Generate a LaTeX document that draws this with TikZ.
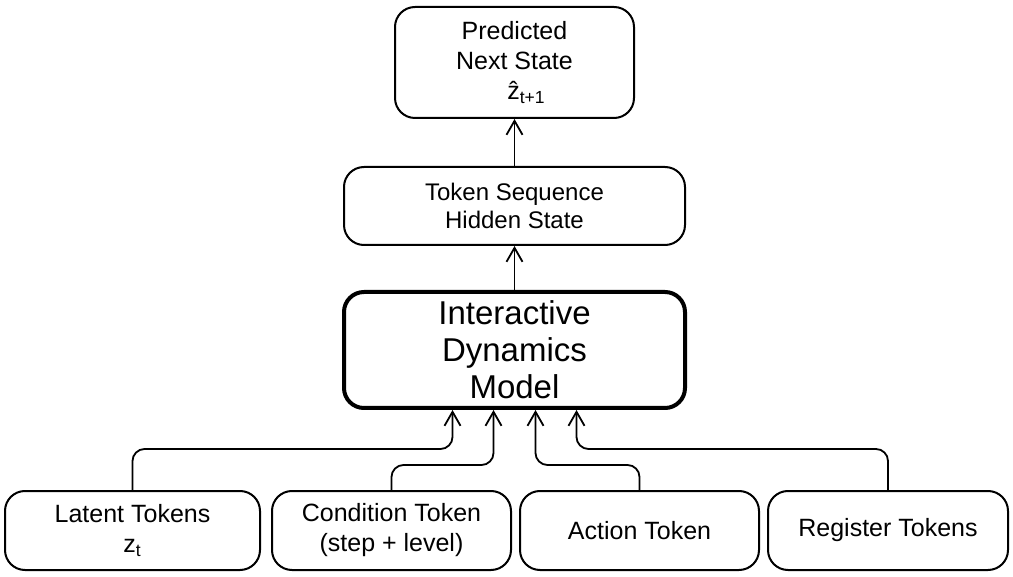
\documentclass[tikz,border=0pt]{standalone}
\usepackage{fontspec}
\setmainfont{Liberation Sans}
\usetikzlibrary{calc,positioning,arrows.meta}
\tikzset{
  blk/.style={draw,rounded corners=10pt,line width=1pt,align=center,font=\fontsize{12.5}{15}\selectfont},
  feed/.style={draw,line width=0.9pt,-{Straight Barb[length=7pt,width=8pt]},rounded corners=6pt}
}

\begin{document}
\begin{tikzpicture}[x=0.5pt,y=-0.5pt]%%%dynamics model
\useasboundingbox (0,0) rectangle (1013,577);
\node [blk,minimum width=119.5pt,minimum height=55.5pt] (pred) at (514.5,62.5) {Predicted\\Next State\\\hspace*{12pt}ẑ\textsubscript{t+1}};
\node [blk,minimum width=170.5pt,minimum height=39pt,font=\fontsize{12}{14}\selectfont] (tok) at (514.5,206) {Token Sequence\\Hidden State};
\node [blk,line width=2pt,minimum width=170.5pt,minimum height=58pt,font=\fontsize{16.5}{18.5}\selectfont] (idm) at (514.5,350) {Interactive\\Dynamics\\Model};
\node [blk,minimum width=127.5pt,minimum height=39.5pt] (lat) at (132.5,530.5) {Latent Tokens\\z\textsubscript{t}};
\node [blk,minimum width=119.5pt,minimum height=39.5pt] (cond) at (391.5,530.5) {Condition Token\\(step + level)};
\node [blk,minimum width=119.5pt,minimum height=39.5pt] (act) at (639.5,530.5) {Action Token};
\node [blk,minimum width=120pt,minimum height=39.5pt] (reg) at (888,530.5) {Register Tokens};
\draw[feed] (tok.north) -- (pred.south);
\draw[feed] (idm.north) -- (tok.south);
\draw[feed] (lat.north) -- ++(0,-41) -| ($(idm.south)+(-62,0)$);
\draw[feed] (cond.north) -- ++(0,-25) -| ($(idm.south)+(-21,0)$);
\draw[feed] (act.north) -- ++(0,-25) -| ($(idm.south)+(21,0)$);
\draw[feed] (reg.north) -- ++(0,-41) -| ($(idm.south)+(62,0)$);

\end{tikzpicture}
\end{document}
